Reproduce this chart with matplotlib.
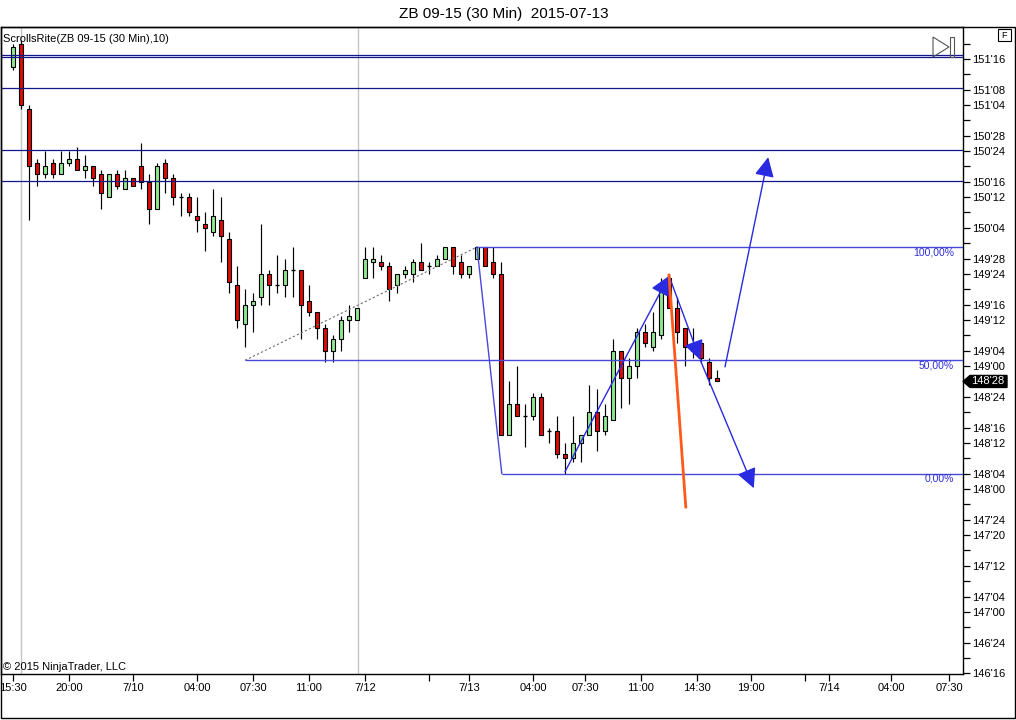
import matplotlib
matplotlib.use("Agg")
import matplotlib.pyplot as plt
from matplotlib.patches import Rectangle, Polygon, FancyArrowPatch
import matplotlib.transforms as mtransforms
import math

plt.rcParams['font.family'] = ['Liberation Sans', 'DejaVu Sans']

# ---------------- data ----------------
title = "ZB 09-15 (30 Min)  2015-07-13"
indicator_label = "ScrollsRite(ZB 09-15 (30 Min),10)"
copyright_label = "\u00a9 2015 NinjaTrader, LLC"

opens = ["151'14","151'20","151'03","150'21","150'18","150'21","150'18","150'21","150'22","150'19",
         "150'20","150'18","150'12","150'18","150'14","150'17","150'20","150'16","150'09","150'21",
         "150'17","150'12","150'12","150'07","150'05","150'03","150'06","150'01","149'21","149'11",
         "149'16","149'18","149'24","149'21","149'21","149'25","149'25","149'17","149'14","149'10",
         "149'04","149'07","149'12","149'12","149'23","149'27","149'27","149'26","149'21","149'24",
         "149'24","149'27","149'26","149'26","149'28","149'31","149'27","149'24","149'28","149'31",
         "149'27","149'24","148'14","148'22","148'19","148'19","148'24","148'15","148'15","148'09",
         "148'08","148'12","148'14","148'20","148'15","148'18","149'04","148'29","149'00","149'09",
         "149'05","149'08","149'23","149'15","149'10","149'04","149'06","149'01","148'29"]
highs = ["151'20","151'21","151'04","150'22","150'24","150'22","150'24","150'24","150'25","150'23",
         "150'20","150'19","150'18","150'19","150'19","150'17","150'26","150'18","150'21","150'22",
         "150'18","150'13","150'13","150'12","150'08","150'14","150'12","150'03","149'26","149'20",
         "149'19","150'05","149'25","149'29","149'28","149'31","149'25","149'21","149'14","149'11",
         "149'08","149'13","149'16","149'15","149'31","149'31","149'29","149'27","149'24","149'26",
         "149'28","150'00","149'27","149'29","149'31","149'31","149'29","149'26","149'31","149'31",
         "149'31","149'27","148'28","149'00","148'22","148'25","148'25","148'16","148'19","148'12",
         "148'19","148'14","148'27","148'26","148'22","149'07","149'04","149'02","149'10","149'11",
         "149'14","149'23","149'24","149'18","149'10","149'10","149'06","149'02","148'31"]
lows = ["151'13","151'03","150'06","150'15","150'17","150'17","150'18","150'20","150'19","150'17",
        "150'15","150'09","150'12","150'14","150'14","150'15","150'14","150'05","150'09","150'13",
        "150'10","150'07","150'07","150'03","149'30","150'02","149'27","149'19","149'10","149'05",
        "149'09","149'16","149'16","149'19","149'18","149'18","149'07","149'13","149'07","149'01",
        "149'01","149'04","149'09","149'12","149'23","149'23","149'25","149'17","149'19","149'23",
        "149'22","149'25","149'24","149'26","149'28","149'24","149'23","149'23","149'28","149'26",
        "149'23","148'14","148'14","148'19","148'11","148'18","148'14","148'12","148'08","148'04",
        "148'07","148'07","148'14","148'10","148'14","148'18","148'21","148'22","148'29","149'05",
        "149'04","149'07","149'15","149'06","149'00","149'02","149'01","148'27","148'28"]
closes = ["151'19","151'04","150'20","150'18","150'20","150'18","150'21","150'22","150'19","150'20",
          "150'17","150'13","150'18","150'15","150'17","150'15","150'16","150'09","150'20","150'17",
          "150'12","150'12","150'08","150'06","150'04","150'07","150'02","149'22","149'12","149'16",
          "149'17","149'24","149'21","149'21","149'25","149'25","149'16","149'14","149'10","149'04",
          "149'07","149'12","149'13","149'15","149'28","149'28","149'26","149'20","149'24","149'25",
          "149'27","149'25","149'26","149'28","149'31","149'26","149'24","149'26","149'31","149'26",
          "149'24","148'14","148'22","148'19","148'19","148'24","148'14","148'15","148'09","148'08",
          "148'12","148'14","148'20","148'15","148'19","149'04","148'29","149'00","149'09","149'06",
          "149'09","149'21","149'15","149'09","149'05","149'05","149'02","148'29","148'28"]

x_tick_pos = [0, 7, 15, 23, 30, 37, 44, 52, 57, 65, 71.5, 78.5, 85.5, 92.25, 99, 102, 109.75, 117]
x_tick_labels = ["15:30", "20:00", "7/10", "04:00", "07:30", "11:00", "7/12", "", "7/13",
                 "04:00", "07:30", "11:00", "14:30", "19:00", "", "7/14", "04:00", "07:30"]

y_labeled = ["151'16", "151'08", "151'04", "150'28", "150'24", "150'16", "150'12", "150'04",
             "149'28", "149'24", "149'16", "149'12", "149'04", "149'00", "148'24", "148'16",
             "148'12", "148'04", "148'00", "147'24", "147'20", "147'12", "147'04", "147'00",
             "146'24", "146'16"]

level_lines = ["151'17", "151'16.4", "151'08.3", "150'24.2", "150'16.3"]

fib_high = "149'31"
fib_low = "148'04"
fib_ratios = [1.0, 0.5, 0.0]
fib_labels = ["100,00%", "50,00%", "0,00%"]
fib_start_bars = [58, 29, 61.1]

session_bars = [1, 43.1]

arrow_legs = [((69, "148'04.5"), (82, "149'23.5")),
              ((82, "149'23.5"), (85.9, "149'01.6")),
              ((89, "148'31.8"), (94.4, "150'22.4")),
              ((85.9, "149'01.6"), (92.6, "148'00.2"))]
orange_line = ((82, "149'23.7"), (84.1, "147'27.3"))
last_price = "148'28"


def pr(s):
    w, f = s.split("'")
    return int(w) + float(f) / 32.0


def fmt32(v):
    whole = int(math.floor(v + 1e-9))
    frac = int(round((v - whole) * 32))
    if frac == 32:
        whole += 1
        frac = 0
    return f"{whole}'{frac:02d}"


W, H = 1016, 720
fig = plt.figure(figsize=(W / 100, H / 100), dpi=100)
fig.patch.set_facecolor('white')


def fx(p):
    return p / W


def fy(p):
    return 1 - p / H


ax = fig.add_axes([fx(1), fy(674), fx(962), 647 / H])
ymin = 146.5 - 0.18 / 32
ymax = 146.5 + 168.3 / 32
ax.set_ylim(ymin, ymax)
ax.set_xlim(-1.5, 118.75)

UP = '#90e890'
DOWN = '#e00a0a'
bw = 0.62
for i in range(len(opens)):
    o, h, l, c = pr(opens[i]), pr(highs[i]), pr(lows[i]), pr(closes[i])
    ax.vlines(i, l, h, color='black', lw=0.85, zorder=2)
    if c > o:
        ax.add_patch(Rectangle((i - bw / 2, o), bw, c - o, facecolor=UP,
                               edgecolor='black', lw=0.8, zorder=3))
    elif c < o:
        ax.add_patch(Rectangle((i - bw / 2, c), bw, o - c, facecolor=DOWN,
                               edgecolor='black', lw=0.8, zorder=3))
    else:
        ax.hlines(o, i - bw / 2, i + bw / 2, color='black', lw=1.0, zorder=3)

# session separators
for b in session_bars:
    ax.axvline(b, color='#c4c4c4', lw=1.0, zorder=1)

# horizontal price levels
for s in level_lines:
    ax.axhline(pr(s), color='#14148c', lw=0.9, zorder=4)

# fibonacci retracement
fh, fl = pr(fib_high), pr(fib_low)
FIBC = '#4848dc'
fib_prices = [fl + r * (fh - fl) for r in fib_ratios]
for fp, lab, xb in zip(fib_prices, fib_labels, fib_start_bars):
    ax.hlines(fp, xb, 118.75, color=FIBC, lw=1.0, zorder=4)
    ax.text(0.9905, fp, lab, transform=mtransforms.blended_transform_factory(ax.transAxes, ax.transData),
            ha='right', va='top', color='#2c2cd8', fontsize=7.5, zorder=6)
ax.plot([fib_start_bars[0], fib_start_bars[2]], [fib_prices[0], fib_prices[2]], color=FIBC, lw=1.0, zorder=4)
ax.plot([fib_start_bars[1], fib_start_bars[0]], [fib_prices[1], fib_prices[0]], color='#707070',
        lw=0.8, ls=(0, (2, 2)), zorder=4)

# hand-drawn arrows
for (x0, p0), (x1, p1) in arrow_legs:
    ax.add_patch(FancyArrowPatch((x0, pr(p0)), (x1, pr(p1)),
                                 arrowstyle='-|>,head_length=0.6,head_width=0.3', mutation_scale=20,
                                 color='#2a2ae0', lw=1.0, shrinkA=0, shrinkB=0, zorder=6))
(ox0, op0), (ox1, op1) = orange_line
ax.plot([ox0, ox1], [pr(op0), pr(op1)], color='#ff5a1a', lw=2.0, zorder=6)

# axes / ticks
ax.yaxis.tick_right()
yt = [146.5 + k / 8 for k in range(0, 42)]
ax.set_yticks(yt)
lab_set = set(y_labeled)
ax.set_yticklabels([fmt32(v) if fmt32(v) in lab_set else '' for v in yt])
ax.set_xticks(x_tick_pos)
ax.set_xticklabels(x_tick_labels)
ax.tick_params(axis='y', direction='out', length=5, width=0.9, pad=1.5, labelsize=8, colors='black')
ax.tick_params(axis='x', direction='out', length=5, width=0.9, pad=1.5, labelsize=8, colors='black')
for sp in ax.spines.values():
    sp.set_linewidth(1.0)
    sp.set_color('black')

# last price marker
bt = mtransforms.blended_transform_factory(ax.transAxes, ax.transData)
lp = pr(last_price)
hh = 6.0 / 3.841 / 32
x_tip, x_sh, x_end = 1.0, 1.0 + 7 / 962, 1.0 + 44 / 962
ax.add_patch(Polygon([(x_tip, lp), (x_sh, lp + hh), (x_end, lp + hh), (x_end, lp - hh), (x_sh, lp - hh)],
                     closed=True, facecolor='black', edgecolor='black', transform=bt, clip_on=False, zorder=10))
ax.text(1.0 + 25 / 962, lp, last_price, transform=bt, ha='center', va='center', color='white',
        fontsize=8, clip_on=False, zorder=11)

# texts
fig.text(fx(504), fy(14), title, ha='center', va='center', fontsize=11)
fig.text(fx(3), fy(39), indicator_label, ha='left', va='center', fontsize=8)
fig.text(fx(3), fy(667), copyright_label, ha='left', va='center', fontsize=8)

# outer frame
fig.add_artist(Rectangle((fx(1), fy(718)), fx(1014), 691 / H, fill=False, lw=1.0,
                         edgecolor='black', transform=fig.transFigure))

# "F" box and scroll icon
fig.add_artist(Rectangle((fx(998), fy(41)), fx(13), 12 / H, fill=False, lw=0.8,
                         edgecolor='black', transform=fig.transFigure))
fig.text(fx(1004.5), fy(35), "F", ha='center', va='center', fontsize=6.5)
fig.add_artist(Polygon([(fx(933), fy(37)), (fx(949), fy(47)), (fx(933), fy(57))], closed=True,
                       fill=False, edgecolor='#555555', lw=0.8, transform=fig.transFigure))
fig.add_artist(Rectangle((fx(950), fy(57)), fx(4), 20 / H, fill=False, lw=0.8,
                         edgecolor='#555555', transform=fig.transFigure))

fig.savefig("out.png", dpi=100)
